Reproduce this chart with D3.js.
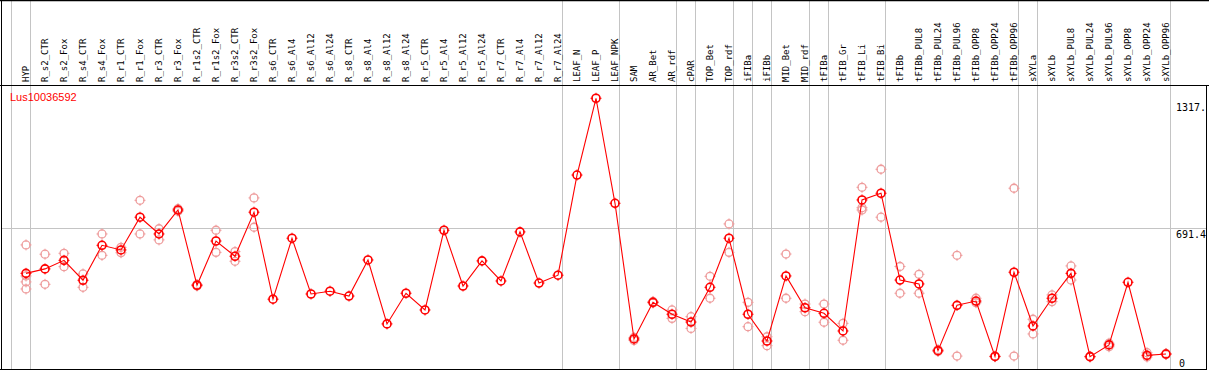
<!DOCTYPE html>
<html>
<head>
<meta charset="utf-8">
<script src="https://cdn.jsdelivr.net/npm/d3@7"></script>
<style>
  html, body { margin: 0; padding: 0; background: #fff; }
  #chart { width: 1209px; height: 370px; }
</style>
</head>
<body>
<div id="chart"></div>
<script>
const geneName = 'Lus10036592';

const samples = ['HYP', 'R_s2_CTR', 'R_s2_Fox', 'R_s4_CTR', 'R_s4_Fox', 'R_r1_CTR', 'R_r1_Fox', 'R_r3_CTR', 'R_r3_Fox',
  'R_r1s2_CTR', 'R_r1s2_Fox', 'R_r3s2_CTR', 'R_r3s2_Fox', 'R_s6_CTR', 'R_s6_Al4', 'R_s6_Al12', 'R_s6_Al24',
  'R_s8_CTR', 'R_s8_Al4', 'R_s8_Al12', 'R_s8_Al24', 'R_r5_CTR', 'R_r5_Al4', 'R_r5_Al12', 'R_r5_Al24',
  'R_r7_CTR', 'R_r7_Al4', 'R_r7_Al12', 'R_r7_Al24', 'LEAF_N', 'LEAF_P', 'LEAF_NPK', 'SAM', 'AR_Bet', 'AR_rdf',
  'cPAR', 'TOP_Bet', 'TOP_rdf', 'iFIBa', 'iFIBb', 'MID_Bet', 'MID_rdf', 'tFIBa', 'tFIB_Gr', 'tFIB_Li', 'tFIB_Bi',
  'tFIBb', 'tFIBb_PUL8', 'tFIBb_PUL24', 'tFIBb_PUL96', 'tFIBb_OPP8', 'tFIBb_OPP24', 'tFIBb_OPP96',
  'sXYLa', 'sXYLb', 'sXYLb_PUL8', 'sXYLb_PUL24', 'sXYLb_PUL96', 'sXYLb_OPP8', 'sXYLb_OPP24', 'sXYLb_OPP96'];

// mean expression per sample
const means = [450, 474, 520, 413, 601, 576, 752, 662, 791, 386,
  624, 542, 779, 311, 639, 339, 354, 328, 522, 178,
  343, 253, 682, 382, 517, 409, 673, 398, 440, 979,
  1392, 827, 97, 294, 230, 188, 375, 639, 230, 86,
  436, 265, 235, 140, 845, 881, 414, 393, 34, 278,
  301, 3, 456, 167, 316, 450, 2, 65, 402, 9, 16];

// individual replicates (hidden ones left out)
const replicates = [[603, 436, 404, 366], [553, 391], [558, 486], [447, 375], [662, 547], [590, 561],
  [843, 662], [690, 630], [798, 784], [390, 382], [682, 563], [567, 515], [856, 698],
  [], [], [], [], [], [], [], [], [], [], [], [], [], [], [], [], [], [], [],
  [105, 89], [299, 291], [253, 208], [217, 154], [434, 316], [716, 563], [294, 163], [109, 61],
  [554, 316], [285, 244], [285, 187], [181, 90], [913, 803, 791], [1010, 752],
  [487, 343], [445, 343], [40, 30], [547, 5], [316, 292], [5, 1], [908, 5],
  [203, 124], [334, 298], [490, 414], [4, 0], [55, 74], [], [23, 0], [19, 13]];

// group separators are drawn after these samples
const groupEnds = ['HYP', 'R_r7_Al24', 'LEAF_NPK', 'AR_rdf', 'cPAR', 'TOP_rdf', 'iFIBa', 'iFIBb',
  'MID_rdf', 'tFIBa', 'tFIB_Bi', 'tFIBb_OPP96', 'sXYLa', 'sXYLb_OPP96'];

// side labels: min, middle (with grid line), max
const yLabels = ['0', '691.4', '1317.'];
const gridValues = [691.4];

(function () {
  'use strict';

  const width = 1209;
  const height = 370;
  const headerBottom = 85.5;
  const plotBottom = 369.5;
  const rightEdge = 1206.5;

  const mainColor = '#ff0000';
  const repColor = '#ee9c9c';
  const gridColor = '#c4c4c4';

  const svg = d3.select('#chart')
    .append('svg')
    .attr('width', width)
    .attr('height', height);

  svg.append('rect')
    .attr('width', width)
    .attr('height', height)
    .attr('fill', '#fff');

  // Scales
  const xBand = d3.scaleBand()
    .domain(samples)
    .range([12, 12 + 19 * samples.length])
    .paddingInner(0)
    .paddingOuter(0);
  const pointOffset = 14;
  const xPos = s => xBand(s) + pointOffset;

  const y = d3.scaleLinear()
    .domain([0, 1458])
    .range([357, 86]);

  // Group separators (full height)
  const sepX = [xBand(samples[0])].concat(groupEnds.map(s => xBand(s) + xBand.bandwidth()));
  svg.append('g')
    .selectAll('line')
    .data(sepX)
    .enter()
    .append('line')
    .attr('x1', d => Math.round(d) - 0.5)
    .attr('x2', d => Math.round(d) - 0.5)
    .attr('y1', 0)
    .attr('y2', plotBottom)
    .attr('stroke', gridColor)
    .attr('stroke-width', 1);

  // Horizontal grid
  svg.append('g')
    .selectAll('line')
    .data(gridValues)
    .enter()
    .append('line')
    .attr('x1', 1)
    .attr('x2', rightEdge)
    .attr('y1', d => Math.round(y(d)) + 0.5)
    .attr('y2', d => Math.round(y(d)) + 0.5)
    .attr('stroke', gridColor)
    .attr('stroke-width', 1);

  // Frame
  svg.append('line').attr('x1', 0).attr('x2', width).attr('y1', 0.5).attr('y2', 0.5)
    .attr('stroke', '#000').attr('stroke-width', 1.5);
  svg.append('line').attr('x1', 0).attr('x2', width).attr('y1', headerBottom).attr('y2', headerBottom)
    .attr('stroke', '#000').attr('stroke-width', 1);
  svg.append('line').attr('x1', 1.5).attr('x2', 1.5).attr('y1', 0).attr('y2', height)
    .attr('stroke', '#000').attr('stroke-width', 1);
  svg.append('line').attr('x1', rightEdge).attr('x2', rightEdge).attr('y1', headerBottom).attr('y2', height)
    .attr('stroke', '#000').attr('stroke-width', 1);
  svg.append('line').attr('x1', 0).attr('x2', rightEdge).attr('y1', plotBottom).attr('y2', plotBottom)
    .attr('stroke', '#000').attr('stroke-width', 1);

  // Column labels
  svg.append('g')
    .selectAll('text')
    .data(samples)
    .enter()
    .append('text')
    .attr('transform', d => `translate(${xPos(d) + 3},82) rotate(-90)`)
    .attr('font-family', 'DejaVu Sans Mono, monospace')
    .attr('font-size', '9px')
    .attr('fill', '#000')
    .text(d => d);

  // Side labels: 0 near the bottom, middle under its grid line, max near the top
  const labelY = [359, Math.round(y(gridValues[0])) + 2, 103];
  const labelX = [1179, 1176, 1176];
  svg.append('g')
    .selectAll('text')
    .data(yLabels)
    .enter()
    .append('text')
    .attr('x', (d, i) => labelX[i])
    .attr('y', (d, i) => labelY[i])
    .attr('dy', '0.78em')
    .attr('font-family', 'DejaVu Sans Mono, monospace')
    .attr('font-size', '10px')
    .attr('fill', '#000')
    .text(d => d);

  // Gene name
  svg.append('text')
    .attr('x', 10)
    .attr('y', 101)
    .attr('font-family', 'Liberation Sans, Arial, sans-serif')
    .attr('font-size', '11px')
    .attr('fill', mainColor)
    .text(geneName);

  // Marker: circle with small ticks outside
  function marker(sel, color, r, sw) {
    sel.append('circle')
      .attr('r', r)
      .attr('fill', 'none')
      .attr('stroke', color)
      .attr('stroke-width', sw);
    [[0, -1], [0, 1], [-1, 0], [1, 0]].forEach(([dx, dy]) => {
      sel.append('line')
        .attr('x1', dx * (r - 1))
        .attr('y1', dy * (r - 1))
        .attr('x2', dx * (r + 1.5))
        .attr('y2', dy * (r + 1.5))
        .attr('stroke', color)
        .attr('stroke-width', 1);
    });
  }

  // Replicates
  const repData = [];
  samples.forEach((s, i) => replicates[i].forEach(v => repData.push({ s, v })));

  svg.append('g')
    .selectAll('g')
    .data(repData)
    .enter()
    .append('g')
    .attr('transform', d => `translate(${xPos(d.s)},${y(d.v)})`)
    .each(function () { marker(d3.select(this), repColor, 4, 1.3); });

  // Mean line
  const line = d3.line()
    .x((d, i) => xPos(samples[i]))
    .y(d => y(d));

  svg.append('path')
    .datum(means)
    .attr('d', line)
    .attr('fill', 'none')
    .attr('stroke', mainColor)
    .attr('stroke-width', 1.1);

  svg.append('g')
    .selectAll('g')
    .data(means)
    .enter()
    .append('g')
    .attr('transform', (d, i) => `translate(${xPos(samples[i])},${y(d)})`)
    .each(function () { marker(d3.select(this), mainColor, 4, 1.6); });
})();
</script>
</body>
</html>
